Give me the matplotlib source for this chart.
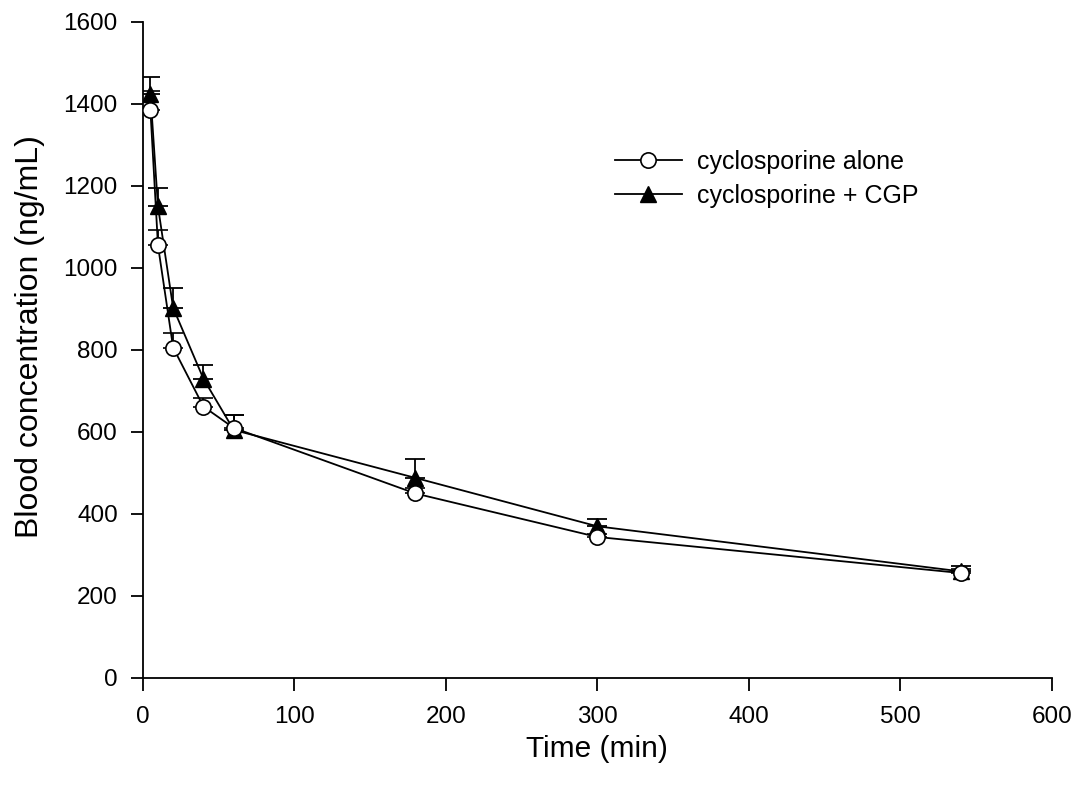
import numpy as np
import matplotlib
matplotlib.use('Agg')
import matplotlib.pyplot as plt

plt.rcParams['font.family'] = ['Liberation Sans', 'DejaVu Sans']

time_min = [5, 10, 20, 40, 60, 180, 300, 540]

alone_mean = [1386, 1055, 806, 662, 610, 450, 344, 256]
alone_err = [46, 38, 35, 22, 32, 14, 8, 10]

cgp_mean = [1425, 1150, 903, 730, 605, 488, 370, 260]
cgp_err = [42, 44, 48, 33, 36, 45, 18, 14]

fig = plt.figure(figsize=(10.82, 7.88), dpi=100)
ax = fig.add_axes([0.132, 0.1396, 0.84, 0.8325])

ax.errorbar(time_min, alone_mean, yerr=[np.zeros(len(alone_err)), alone_err],
            fmt='o-', color='black', mfc='white', mec='black', ms=11, mew=1.2,
            lw=1.3, capsize=7, elinewidth=1.3, capthick=1.3,
            label='cyclosporine alone', zorder=3)
ax.errorbar(time_min, cgp_mean, yerr=[np.zeros(len(cgp_err)), cgp_err],
            fmt='^-', color='black', mfc='black', mec='black', ms=11,
            lw=1.3, capsize=7, elinewidth=1.3, capthick=1.3,
            label='cyclosporine + CGP', zorder=2)

ax.set_xlim(0, 600)
ax.set_ylim(0, 1600)
ax.set_xticks(range(0, 601, 100))
ax.set_yticks(range(0, 1601, 200))
ax.spines['top'].set_visible(False)
ax.spines['right'].set_visible(False)
ax.spines['left'].set_linewidth(1.3)
ax.spines['bottom'].set_linewidth(1.3)
ax.tick_params(direction='out', length=9, width=1.3, labelsize=17.5)
ax.tick_params(axis='y', pad=9)
ax.tick_params(axis='x', pad=11)

ax.set_xlabel('Time (min)', fontsize=21.5, labelpad=5)
ax.set_ylabel('Blood concentration (ng/mL)', fontsize=23)
ax.yaxis.set_label_coords(-0.108, 0.52)

handles, labels = ax.get_legend_handles_labels()
handles = [h[0] for h in handles]
ax.legend(handles, labels, loc='center left', bbox_to_anchor=(0.519, 0.761),
          frameon=False, fontsize=18, handlelength=2.7, handletextpad=0.6,
          labelspacing=0.38, borderpad=0, borderaxespad=0)

fig.savefig('out.png', dpi=100)
